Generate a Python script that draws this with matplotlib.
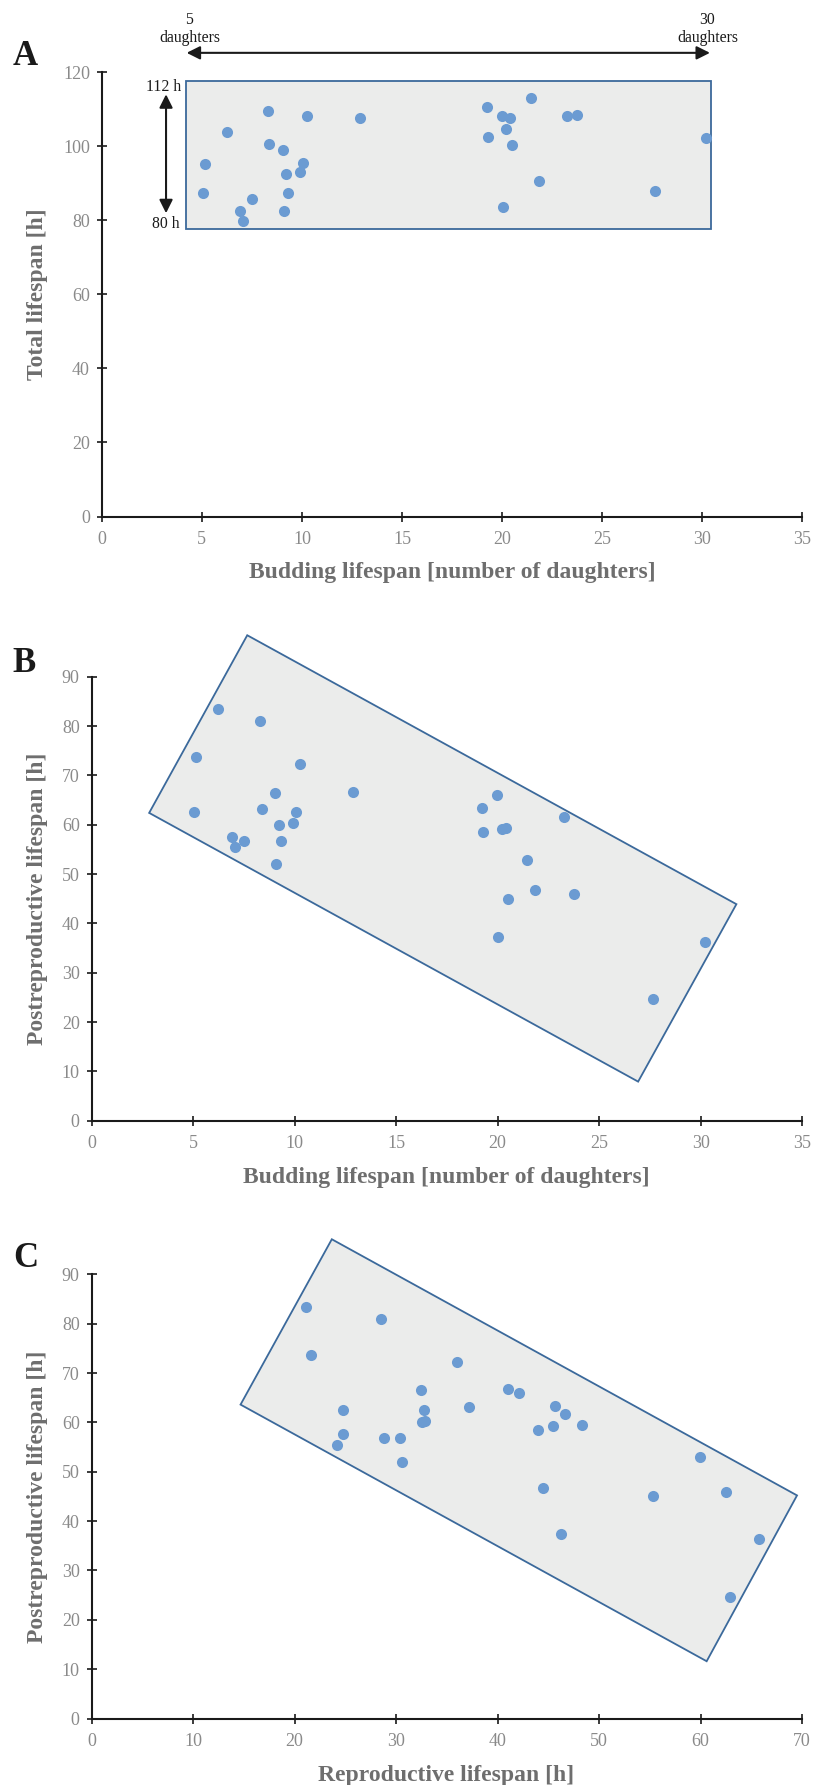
import matplotlib
matplotlib.use('Agg')
import matplotlib.pyplot as plt
from matplotlib.patches import Polygon

plt.rcParams['font.family'] = ['Liberation Serif', 'DejaVu Serif']

# ---------------- data ----------------
budding = [5.06, 5.16, 6.25, 6.93, 7.06, 7.52, 8.30, 8.38, 9.03, 9.08, 9.21, 9.31,
           9.91, 10.07, 10.27, 12.90, 19.25, 19.30, 19.98, 20.39, 20.03, 20.21,
           20.52, 21.46, 21.85, 23.27, 23.74, 27.66, 30.20]
total = [87.35, 95.2, 103.7, 82.6, 79.8, 85.6, 109.5, 100.5, 99.0, 82.6, 92.6, 87.3,
         93.1, 95.4, 108.2, 107.7, 110.6, 102.5, 108.1, 107.6, 83.7, 104.7,
         100.4, 113.0, 90.5, 108.2, 108.5, 87.8, 102.1]
postrepro = [62.6, 73.7, 83.4, 57.6, 55.5, 56.8, 81.0, 63.2, 66.5, 52.0, 60.0, 56.8,
             60.3, 62.6, 72.3, 66.7, 63.4, 58.5, 66.0, 59.4, 37.3, 59.2,
             45.0, 52.9, 46.8, 61.6, 45.9, 24.7, 36.3]
repro = [24.80, 21.58, 21.17, 24.80, 24.19, 28.79, 28.48, 37.22, 32.47, 30.58, 32.57, 30.37,
         32.88, 32.78, 36.00, 41.06, 45.61, 43.97, 42.08, 48.32, 46.22, 45.46,
         55.33, 59.98, 44.43, 46.68, 62.54, 62.89, 65.76]

# envelopes drawn around the clouds
hull_a_x = [4.21, 30.44, 30.44, 4.21]
hull_a_y = [117.7, 117.7, 77.6, 77.6]
hull_b_x = [7.67, 31.76, 26.92, 2.84]
hull_b_y = [98.4, 43.9, 7.94, 62.4]
hull_c_x = [23.67, 69.49, 60.59, 14.68]
hull_c_y = [97.1, 45.2, 11.6, 63.6]

xticks_ab = [0, 5, 10, 15, 20, 25, 30, 35]
yticks_a = [0, 20, 40, 60, 80, 100, 120]
yticks_bc = [0, 10, 20, 30, 40, 50, 60, 70, 80, 90]
xticks_c = [0, 10, 20, 30, 40, 50, 60, 70]

# ---------------- styling ----------------
W, H = 814, 1785
fig = plt.figure(figsize=(W / 100, H / 100), dpi=100)

DOT = '#6b9bd2'
EDGE = '#3b699b'
FILL = '#ebeceb'
INK = '#1a1a1a'
TICKC = '#8a8a8a'
LABC = '#6e6e6e'


def px_axes(left, right, y0px, ytoppx):
    return fig.add_axes([left / W, 1 - y0px / H, (right - left) / W, (y0px - ytoppx) / H])


def style(ax, xlim, xticks, ylim, yticks):
    ax.set_xlim(*xlim)
    ax.set_ylim(*ylim)
    ax.set_xticks(xticks)
    ax.set_yticks(yticks)
    ax.patch.set_visible(False)
    for s in ['top', 'right']:
        ax.spines[s].set_visible(False)
    for s in ['left', 'bottom']:
        ax.spines[s].set_linewidth(1.5)
        ax.spines[s].set_color(INK)
    ax.tick_params(direction='inout', length=7, width=1.2, color=INK,
                   labelsize=13, labelcolor=TICKC)
    ax.tick_params(axis='x', pad=7)
    ax.tick_params(axis='y', pad=5)


def hull(ax, hx, hy):
    ax.add_patch(Polygon(list(zip(hx, hy)), closed=True, fc=FILL, ec=EDGE,
                         lw=1.3, zorder=1, clip_on=False))


axA = px_axes(101.8, 802.2, 516.5, 72.1)
axB = px_axes(91.5, 802.2, 1120.8, 676.7)
axC = px_axes(91.5, 802.2, 1718.5, 1274.3)

style(axA, (0, 35), xticks_ab, (0, 120), yticks_a)
style(axB, (0, 35), xticks_ab, (0, 90), yticks_bc)
style(axC, (0, 70), xticks_c, (0, 90), yticks_bc)

hull(axA, hull_a_x, hull_a_y)
hull(axB, hull_b_x, hull_b_y)
hull(axC, hull_c_x, hull_c_y)

for ax, xs, ys in [(axA, budding, total), (axB, budding, postrepro), (axC, repro, postrepro)]:
    ax.plot(xs, ys, 'o', ms=8, color=DOT, mec='none', zorder=3, clip_on=False)

# ---------------- annotations in panel A ----------------
arrow = dict(arrowstyle='<|-|>,head_length=0.4,head_width=0.2', mutation_scale=20,
             lw=1.5, color=INK, shrinkA=0, shrinkB=0)
axA.annotate('', xy=(4.24, 125.2), xytext=(30.39, 125.2), arrowprops=arrow,
             annotation_clip=False)
axA.annotate('', xy=(3.21, 114.0), xytext=(3.21, 81.9), arrowprops=arrow,
             annotation_clip=False)

small = dict(fontsize=11.3, color=INK, va='baseline')
axA.text(4.36, 133.0, '5', ha='center', **small)
axA.text(4.41, 128.0, 'daughters', ha='center', **small)
axA.text(30.23, 133.0, '30', ha='center', **small)
axA.text(30.30, 128.0, 'daughters', ha='center', **small)
axA.text(3.99, 114.9, '112 h', ha='right', **small)
axA.text(3.91, 77.9, '80 h', ha='right', **small)

# ---------------- axis labels and panel letters ----------------
lab = dict(fontsize=17, fontweight='bold', color=LABC)
fig.text(37.4 / W, 1 - 294.3 / H, 'Total lifespan [h]', rotation=90, ha='center', va='center', **lab)
fig.text(38.0 / W, 1 - 898.7 / H, 'Postreproductive lifespan [h]', rotation=90, ha='center', va='center', **lab)
fig.text(37.4 / W, 1 - 1496.4 / H, 'Postreproductive lifespan [h]', rotation=90, ha='center', va='center', **lab)

fig.text(452 / W, 1 - 578.3 / H, 'Budding lifespan [number of daughters]', ha='center', va='baseline', **lab)
fig.text(446.8 / W, 1 - 1182.8 / H, 'Budding lifespan [number of daughters]', ha='center', va='baseline', **lab)
fig.text(446.5 / W, 1 - 1781 / H, 'Reproductive lifespan [h]', ha='center', va='baseline', **lab)

let = dict(fontsize=25, fontweight='bold', color=INK, ha='left', va='baseline')
fig.text(13 / W, 1 - 65 / H, 'A', **let)
fig.text(12.7 / W, 1 - 672.3 / H, 'B', **let)
fig.text(13 / W, 1 - 1267 / H, 'C', **let)

fig.savefig('out.png', dpi=100)
